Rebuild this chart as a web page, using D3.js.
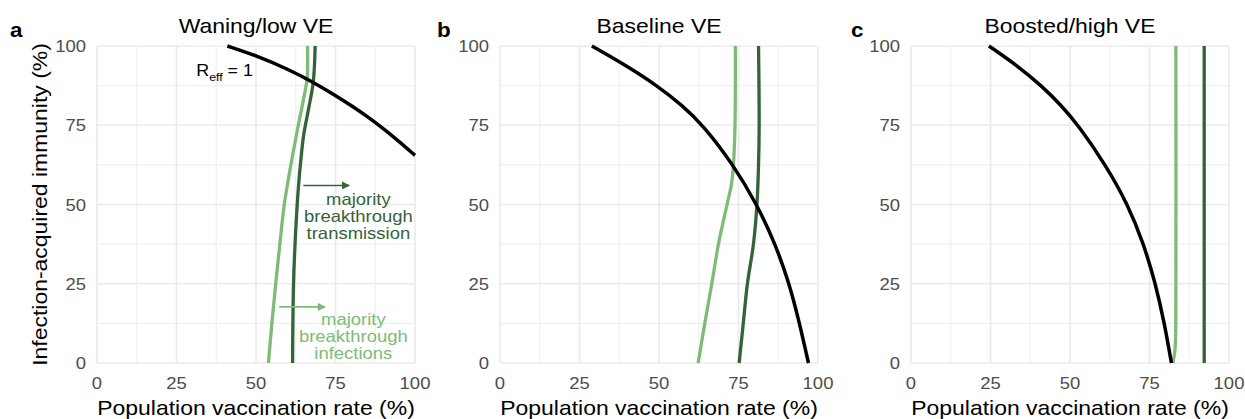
<!DOCTYPE html>
<meta charset="utf-8">
<title>Breakthrough thresholds</title>
<script src="https://cdn.jsdelivr.net/npm/d3@7"></script>
<style>
  body { margin: 0; background: #fff; }
  text { font-family: "Liberation Sans", Arial, sans-serif; }
</style>
<body>
<script>

// panel titles + letters
var titles = ["Waning/low VE", "Baseline VE", "Boosted/high VE"]
   ,letters = ["a", "b", "c"]
   ,ticks = [0, 25, 50, 75, 100]
   ,minorTicks = [12.5, 37.5, 62.5, 87.5];

// curves, [vaccination %, infection-acquired immunity %]
var reffA = [[100,65.5],[95,69.9],[90,74],[85,77.8],[80,81.2],[75,84.4],[68,88.6],[60,92.7],[50,97],[41,100]];
var infA  = [[53.9,0],[55,12.5],[56.2,25],[57.5,37.5],[58.9,50],[60.7,61],[63.3,75],[65.3,85],[66.1,90],[66.2,100]];
var transA = [[61.5,0],[61.8,25],[62.4,40],[63.3,55],[64.2,65],[65,72],[66.5,80],[68,88.6],[68.6,100]];

var reffB = [[97,0],[94.2,12.5],[91,25],[86.6,37.5],[80.8,50],[73.4,62.5],[63.9,75],[57.3,81.25],[49.4,87.5],[39.8,93.75],[28.9,100]];
var infB  = [[62.3,0],[64.4,12.5],[66.6,25],[68.7,37.5],[71.4,50],[72.8,56.5],[73.4,62.5],[73.9,75],[74,100]];
var transB = [[75.2,0],[76.5,12.5],[77.8,25],[79.7,37.5],[80.8,50],[81.3,62.5],[81.5,75],[81.3,100]];

var reffC = [[81.9,0],[79.7,12.5],[76.9,25],[73.2,37.5],[68.2,50],[61.2,62.5],[52.6,75],[47.3,81.25],[41,87.5],[33.5,93.75],[24.5,100]];
var infC  = [[82.3,0],[82.9,3],[83.2,8],[83.3,20],[83.3,100]];
var transC = [[92.2,0],[92.2,100]];

var reffSeries = [reffA, reffB, reffC]
   ,infSeries = [infA, infB, infC]
   ,transSeries = [transA, transB, transC];

var light = "#7dbb76"
   ,dark = "#34633a";

var svg_w = 1245
   ,svg_h = 419
   ,panel_left = [97, 500, 911]
   ,letter_x = [10, 437, 851]
   ,panel_w = 318
   ,plot_top = 46
   ,plot_bottom = 363
   ,stretch = 1.12;   // the figure's text is set a bit wide

var svg = d3.select("body").append("svg")
            .attr("width", svg_w)
            .attr("height", svg_h);

var defs = svg.append("defs");
[["arr-dark", dark], ["arr-light", light]].forEach(function (m) {
  defs.append("marker")
    .attr("id", m[0])
    .attr("viewBox", "0 0 10 10")
    .attr("refX", 9).attr("refY", 5)
    .attr("markerWidth", 10).attr("markerHeight", 8)
    .attr("markerUnits", "userSpaceOnUse")
    .attr("orient", "auto")
    .append("path")
    .attr("d", "M0,0 L10,5 L0,10 Z")
    .attr("fill", m[1]);
});

var at = function (x, y) { return "translate(" + x + "," + y + ") scale(" + stretch + ",1)" };

var y = d3.scaleLinear().domain([0, 100]).range([plot_bottom, plot_top]);

titles.forEach(function (title, i) {
  var x = d3.scaleLinear().domain([0, 100]).range([panel_left[i], panel_left[i] + panel_w]);
  var g = svg.append("g");

  // grid
  g.selectAll(".minx").data(minorTicks).enter().append("line")
    .attr("x1", x).attr("x2", x).attr("y1", plot_top).attr("y2", plot_bottom)
    .attr("stroke", "#ebebeb").attr("stroke-width", 0.9);
  g.selectAll(".miny").data(minorTicks).enter().append("line")
    .attr("y1", y).attr("y2", y).attr("x1", x(0)).attr("x2", x(100))
    .attr("stroke", "#ebebeb").attr("stroke-width", 0.9);
  g.selectAll(".majx").data(ticks).enter().append("line")
    .attr("x1", x).attr("x2", x).attr("y1", plot_top).attr("y2", plot_bottom)
    .attr("stroke", "#ebebeb").attr("stroke-width", 1.7);
  g.selectAll(".majy").data(ticks).enter().append("line")
    .attr("y1", y).attr("y2", y).attr("x1", x(0)).attr("x2", x(100))
    .attr("stroke", "#ebebeb").attr("stroke-width", 1.7);

  // tick labels
  g.selectAll(".xt").data(ticks).enter().append("text")
    .attr("transform", function (d) { return at(x(d), 388.5) })
    .attr("text-anchor", "middle")
    .attr("font-size", 16.5).attr("fill", "#4d4d4d")
    .text(function (d) { return d });
  g.selectAll(".yt").data(ticks).enter().append("text")
    .attr("transform", function (d) { return at(x(0) - 11, y(d) + 6) })
    .attr("text-anchor", "end")
    .attr("font-size", 16.5).attr("fill", "#4d4d4d")
    .text(function (d) { return d });

  // titles
  g.append("text")
    .attr("transform", at(x(50), 32.5))
    .attr("text-anchor", "middle").attr("font-size", 20.5)
    .text(title);
  g.append("text")
    .attr("transform", at(letter_x[i], 37))
    .attr("font-size", 20).attr("font-weight", "bold")
    .text(letters[i]);
  g.append("text")
    .attr("transform", at(x(50), 415))
    .attr("text-anchor", "middle").attr("font-size", 20.5)
    .text("Population vaccination rate (%)");

  var line = function (curve) {
    return d3.line()
      .x(function (d) { return x(d[0]) })
      .y(function (d) { return y(d[1]) })
      .curve(curve);
  };
  var byY = function (arr) { return arr.slice().sort(function (a, b) { return a[1] - b[1] }) };

  g.append("path").attr("d", line(d3.curveCatmullRom.alpha(0.5))(byY(infSeries[i])))
    .attr("fill", "none").attr("stroke", light).attr("stroke-width", 3.3);
  g.append("path").attr("d", line(d3.curveCatmullRom.alpha(0.5))(byY(transSeries[i])))
    .attr("fill", "none").attr("stroke", dark).attr("stroke-width", 3.3);
  // the R_eff = 1 boundary is smooth, so let a basis spline even out reading error
  g.append("path").attr("d", line(d3.curveBasis)(byY(reffSeries[i])))
    .attr("fill", "none").attr("stroke", "#000").attr("stroke-width", 3.5);

  if (i == 0) {
    // R_eff label
    var r = g.append("text").attr("transform", at(x(31.2), y(90.6))).attr("font-size", 16);
    r.append("tspan").text("R");
    r.append("tspan").attr("font-size", 11).attr("dy", 5).text("eff");
    r.append("tspan").attr("dy", -5).text(" = 1");

    // annotations: [x1, x2, y arrow, text x, text middle y, lines, colour, marker]
    var notes = [
      [64.9, 79.3, 56, 82.2, 44.4, ["majority", "breakthrough", "transmission"], dark, "arr-dark"],
      [57.3, 71.7, 17.7, 80.6, 6.6, ["majority", "breakthrough", "infections"], light, "arr-light"]
    ];
    notes.forEach(function (n) {
      g.append("line")
        .attr("x1", x(n[0])).attr("x2", x(n[1]))
        .attr("y1", y(n[2])).attr("y2", y(n[2]))
        .attr("stroke", n[6]).attr("stroke-width", 1.6)
        .attr("marker-end", "url(#" + n[7] + ")");
      g.selectAll(null).data(n[5]).enter().append("text")
        .attr("transform", function (d, k) { return at(x(n[3]), y(n[4]) + (k - 1) * 16.8) })
        .attr("text-anchor", "middle").attr("font-size", 16.5)
        .attr("fill", n[6])
        .text(function (d) { return d });
    });

    g.append("text")
      .attr("transform", "translate(47," + y(50) + ") rotate(-90) scale(" + stretch + ",1)")
      .attr("text-anchor", "middle").attr("font-size", 20.5)
      .text("Infection-acquired immunity (%)");
  }
});

</script>
</body>
